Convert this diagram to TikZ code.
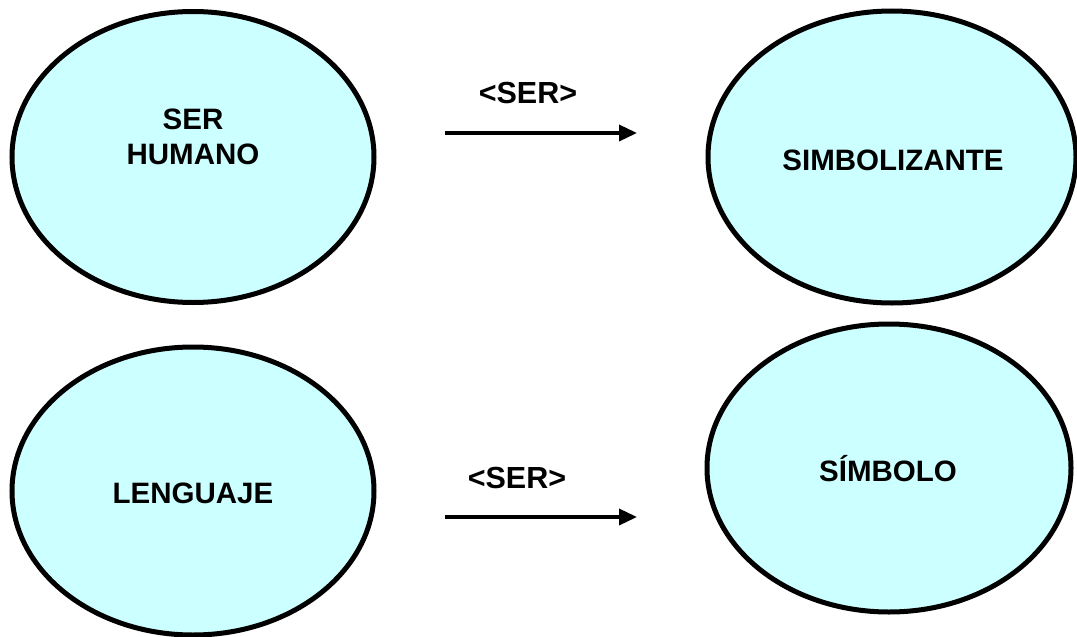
\documentclass[tikz,border=0pt]{standalone}
\usepackage{fontspec}
\setmainfont{Liberation Sans}
\usetikzlibrary{shapes.geometric,arrows.meta}
\definecolor{ellfill}{HTML}{CCFFFF}
\tikzset{
  concept/.style={draw=black, line width=5pt, fill=ellfill, ellipse, inner sep=0pt},
  lbl/.style={font=\fontsize{29.5}{35}\selectfont\bfseries, align=center, inner sep=0pt},
  rellbl/.style={font=\fontsize{30.5}{35}\selectfont\bfseries, inner sep=0pt},
  rel/.style={line width=3.5pt, -{Triangle[length=18pt,width=16pt]}},
}
\begin{document}
\begin{tikzpicture}[x=1pt,y=-1pt]
\useasboundingbox (0,0) rectangle (1077,637);
\node[concept, minimum width=362pt, minimum height=291pt] (e1) at (193,157) {};
\node[concept, minimum width=368pt, minimum height=292pt] (e2) at (892,157) {};
\node[concept, minimum width=362pt, minimum height=288pt] (e3) at (193,491) {};
\node[concept, minimum width=364pt, minimum height=288pt] (e4) at (889,468) {};
\node[lbl] (t1) at (193,137) {SER\\HUMANO};
\node[lbl] (t2) at (893,160) {SIMBOLIZANTE};
\node[lbl] (t3) at (193,493) {LENGUAJE};
\node[lbl] (t4) at (888,469) {SÍMBOLO};
\coordinate (a1s) at (445,133);
\coordinate (a1e) at (637,133);
\coordinate (a2s) at (445,517);
\coordinate (a2e) at (637,517);
\draw[rel] (a1s) -- (a1e);
\draw[rel] (a2s) -- (a2e);
\node[rellbl] (l1) at (528,93) {<SER>};
\node[rellbl] (l2) at (517,478) {<SER>};
\end{tikzpicture}
\end{document}
